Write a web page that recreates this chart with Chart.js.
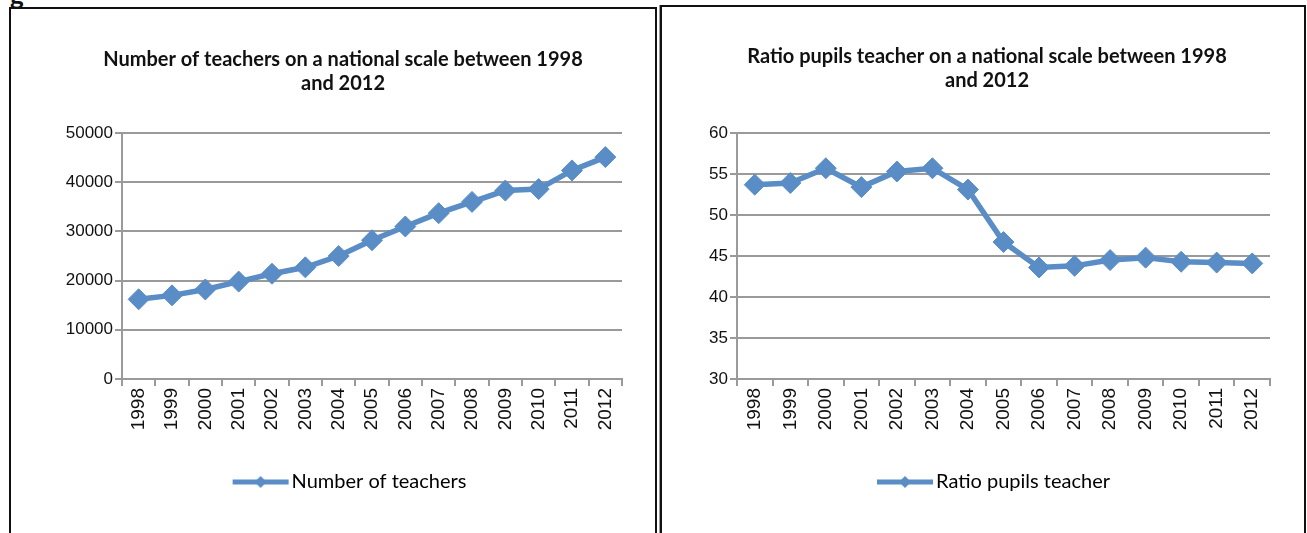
<!DOCTYPE html>
<html>
<head>
<meta charset="utf-8">
<script src="https://cdn.jsdelivr.net/npm/chart.js@4.4.1/dist/chart.umd.min.js"></script>
<style>
  body { margin: 0; background: #fff; width: 1307px; height: 533px; overflow: hidden; position: relative; }
  .panel { position: absolute; border: 2px solid #111; border-bottom: none; box-sizing: border-box; }
  #panel-left { left: 9px; top: 7px; width: 648px; height: 526px; }
  #panel-right { left: 660px; top: 5px; width: 646px; height: 528px; box-shadow: -1px 0 0 #999; }
  canvas { position: absolute; display: block; }
  #teachers-chart { left: 12px; top: 10px; }
  #ratio-chart { left: 662px; top: 8px; }
  .cut { position: absolute; left: 10px; top: -21px; font: bold 26px "Lato", sans-serif; color: #111; }
</style>
</head>
<body>
<div class="cut">g</div>
<div class="panel" id="panel-left"></div>
<div class="panel" id="panel-right"></div>
<canvas id="teachers-chart" width="642" height="523"></canvas>
<canvas id="ratio-chart" width="641" height="525"></canvas>
<script>
const years = ["1998", "1999", "2000", "2001", "2002", "2003", "2004", "2005",
  "2006", "2007", "2008", "2009", "2010", "2011", "2012"];
const teachers = [16200, 17000, 18200, 19800, 21400, 22700, 25000, 28200,
  31000, 33700, 36000, 38300, 38600, 42400, 45100];
const ratio = [53.7, 53.9, 55.7, 53.4, 55.3, 55.7, 53.1, 46.7,
  43.6, 43.8, 44.5, 44.8, 44.3, 44.2, 44.1];

const blue = "#5a8dc6";
const gridGray = "#9a9a9a";
const tickFamily = "'Liberation Sans', Arial, sans-serif";
const textFont = "'Lato', 'Open Sans', sans-serif";

// line + diamond for the legend, with empty room on the left so the item sits further right
function legendMarker(color) {
  const c = document.createElement("canvas");
  c.width = 78;
  c.height = 16;
  const g = c.getContext("2d");
  g.strokeStyle = color;
  g.lineWidth = 5;
  g.beginPath();
  g.moveTo(21, 8);
  g.lineTo(77, 8);
  g.stroke();
  g.fillStyle = color;
  g.beginPath();
  g.moveTo(49, 2);
  g.lineTo(55, 8);
  g.lineTo(49, 14);
  g.lineTo(43, 8);
  g.closePath();
  g.fill();
  return c;
}

function makeChart(id, title, label, values, yMin, yMax, yStep, lay) {
  const ctx = document.getElementById(id).getContext("2d");
  const marker = legendMarker(blue);
  return new Chart(ctx, {
    type: "line",
    data: {
      labels: years,
      datasets: [{
        label: label,
        data: values,
        borderColor: blue,
        backgroundColor: blue,
        borderWidth: 5.5,
        pointStyle: "rectRot",
        pointRadius: 10.5,
        pointBorderWidth: 1,
        tension: 0
      }]
    },
    options: {
      responsive: false,
      animation: false,
      layout: { padding: { left: lay.left, right: lay.right, top: 0, bottom: 31 } },
      plugins: {
        tooltip: { enabled: false },
        title: {
          display: true,
          text: title,
          color: "#111",
          font: { family: textFont, size: 20, weight: "bold", lineHeight: "24px" },
          padding: { top: lay.titleTop, bottom: lay.titleBottom }
        },
        legend: {
          position: "bottom",
          labels: {
            usePointStyle: true,
            pointStyleWidth: 62,
            color: "#111",
            font: { family: textFont, size: 20 },
            padding: 10,
            generateLabels: chart => [{
              text: label,
              pointStyle: marker,
              fillStyle: blue,
              strokeStyle: blue,
              lineWidth: 0,
              datasetIndex: 0
            }]
          }
        }
      },
      scales: {
        x: {
          offset: true,
          afterFit: s => { s.height = 83; },
          border: { color: gridGray, width: 2 },
          grid: { offset: true, drawOnChartArea: false, color: gridGray, lineWidth: 2, tickLength: 7 },
          ticks: { color: "#111", font: { family: tickFamily, size: 19 }, maxRotation: 90, minRotation: 90, padding: 2 }
        },
        y: {
          min: yMin,
          max: yMax,
          afterFit: s => { s.width = lay.yWidth; },
          border: { color: gridGray, width: 2 },
          grid: { color: gridGray, lineWidth: 2, tickLength: 7 },
          ticks: { stepSize: yStep, color: "#111", font: { family: tickFamily, size: 17 }, padding: 2, callback: v => String(v) }
        }
      }
    }
  });
}

makeChart("teachers-chart",
  ["Number of teachers on a national scale between 1998", "and 2012"],
  "Number of teachers", teachers, 0, 50000, 10000,
  { left: 52, right: 32, yWidth: 58, titleTop: 38, titleBottom: 37 });

makeChart("ratio-chart",
  ["Ratio pupils teacher on a national scale between 1998", "and 2012"],
  "Ratio pupils teacher", ratio, 30, 60, 5,
  { left: 42, right: 33, yWidth: 33, titleTop: 37, titleBottom: 40 });
</script>
</body>
</html>
